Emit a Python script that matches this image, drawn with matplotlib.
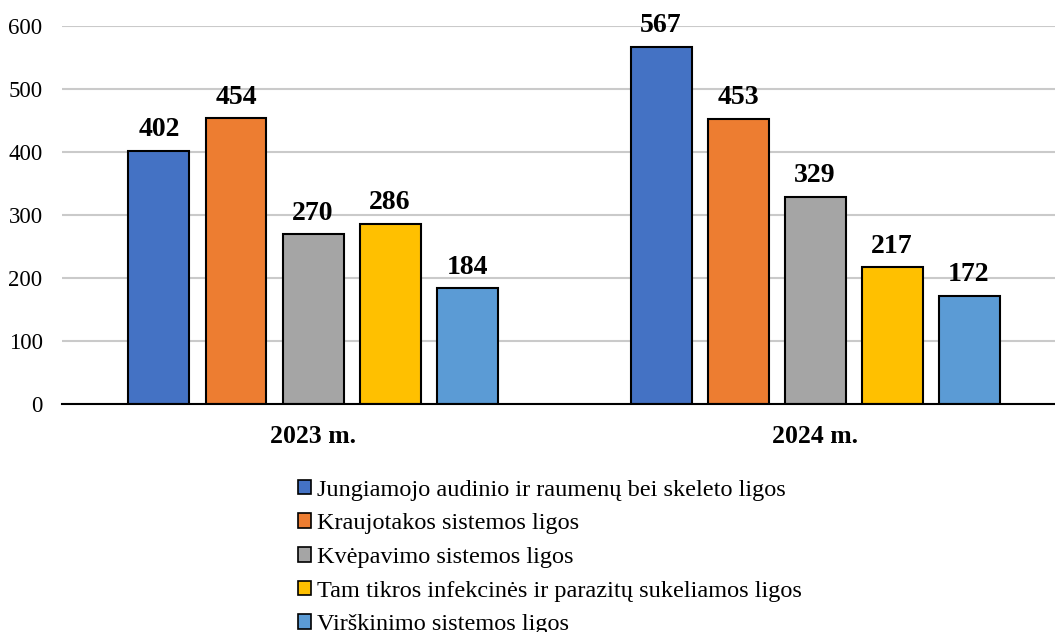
import numpy as np
import matplotlib.pyplot as plt
from matplotlib.patches import Patch

plt.rcParams['font.family'] = ['Liberation Serif', 'DejaVu Serif']

# DATA
years = ['2023 m.', '2024 m.']
series_names = [
    'Jungiamojo audinio ir raumenų bei skeleto ligos',
    'Kraujotakos sistemos ligos',
    'Kvėpavimo sistemos ligos',
    'Tam tikros infekcinės ir parazitų sukeliamos ligos',
    'Virškinimo sistemos ligos',
]
values = [
    [402, 567],
    [454, 453],
    [270, 329],
    [286, 217],
    [184, 172],
]
colors = ['#4472C4', '#ED7D31', '#A5A5A5', '#FFC000', '#5B9BD5']

# LAYOUT
W, H = 1055, 632
fig = plt.figure(figsize=(W / 100, H / 100), dpi=100)
ax = fig.add_axes([62 / W, (H - 404) / H, (W - 62) / W, (404 - 26) / H])

x = np.arange(len(years))
bar_w = 0.1215
step = 0.1534
n = len(series_names)

for i, (name, vals, c) in enumerate(zip(series_names, values, colors)):
    pos = x + (i - (n - 1) / 2) * step
    bars = ax.bar(pos, vals, width=bar_w, color=c, edgecolor='black',
                  linewidth=1.5, label=name, zorder=3)
    for b, v in zip(bars, vals):
        ax.annotate(str(v), (b.get_x() + b.get_width() / 2, v),
                    xytext=(0, 6), textcoords='offset points',
                    ha='center', va='bottom', fontsize=20, fontweight='bold',
                    annotation_clip=False)

ax.set_xlim(-0.5, 1.478)
ax.set_ylim(0, 600)
ax.set_yticks(range(0, 601, 100))
ax.set_xticks(x)
ax.set_xticklabels(years, fontsize=18.5, fontweight='bold')
ax.tick_params(axis='y', length=0, pad=14, labelsize=16.5)
ax.tick_params(axis='x', length=0, pad=15)
ax.yaxis.grid(True, color='#cacaca', linewidth=1.5, zorder=0)
ax.set_axisbelow(True)
for s in ['top', 'right', 'left']:
    ax.spines[s].set_visible(False)
ax.spines['bottom'].set_linewidth(1.5)
ax.spines['bottom'].set_zorder(4)

handles = [Patch(facecolor=c, edgecolor='black', linewidth=1.2) for c in colors]
fig.legend(handles, series_names, loc='upper left',
           bbox_to_anchor=(288 / W, 1 - 470 / H), frameon=False,
           fontsize=17.5, handlelength=0.55, handleheight=0.55,
           handletextpad=0.25, labelspacing=0.52, borderaxespad=0)

fig.savefig('out.png', dpi=100)
